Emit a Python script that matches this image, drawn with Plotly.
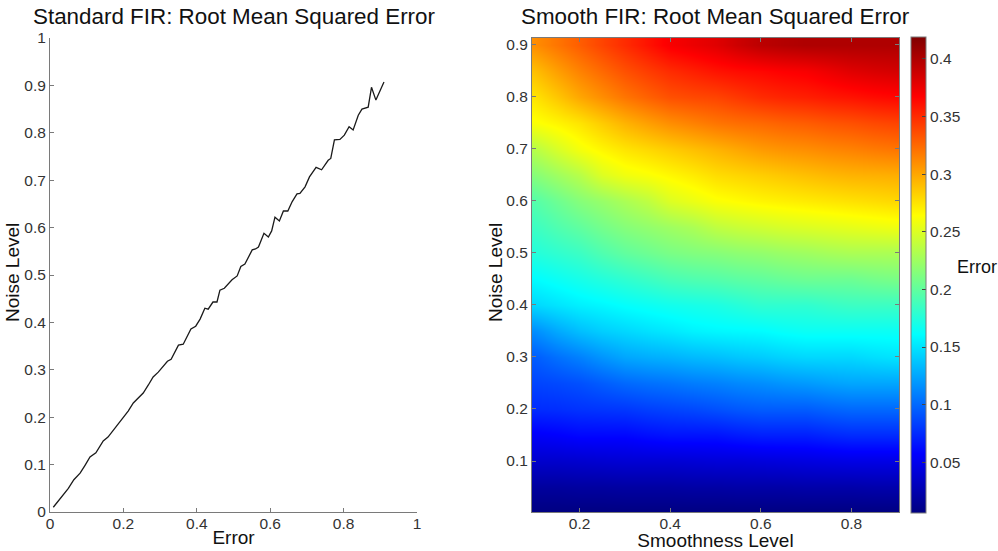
import plotly.graph_objects as go

# Left panel: hand-read curve
error_x = [0.009, 0.03, 0.05, 0.065, 0.082, 0.095, 0.109, 0.125, 0.145, 0.158, 0.177, 0.195, 0.213, 0.227, 0.24, 0.254, 0.268,
           0.281, 0.295, 0.308, 0.32, 0.33, 0.34, 0.35, 0.363, 0.373, 0.384, 0.397, 0.409, 0.422, 0.431, 0.444, 0.455, 0.463,
           0.475, 0.496, 0.51, 0.52, 0.531, 0.551, 0.56, 0.568, 0.583, 0.595, 0.604, 0.613, 0.625, 0.636, 0.648, 0.66, 0.673,
           0.681, 0.695, 0.707, 0.725, 0.74, 0.758, 0.765, 0.775, 0.79, 0.802, 0.815, 0.826, 0.84, 0.85, 0.867, 0.876, 0.888, 0.91]
noise_y = [0.01, 0.03, 0.05, 0.068, 0.082, 0.098, 0.116, 0.125, 0.15, 0.158, 0.177, 0.195, 0.213, 0.23, 0.24, 0.251, 0.268,
           0.285, 0.295, 0.306, 0.318, 0.322, 0.338, 0.352, 0.354, 0.37, 0.386, 0.392, 0.407, 0.43, 0.428, 0.443, 0.443, 0.468,
           0.472, 0.49, 0.498, 0.518, 0.523, 0.553, 0.555, 0.559, 0.588, 0.58, 0.593, 0.622, 0.614, 0.635, 0.635, 0.655, 0.671,
           0.672, 0.686, 0.707, 0.727, 0.722, 0.742, 0.746, 0.785, 0.786, 0.795, 0.813, 0.806, 0.837, 0.85, 0.854, 0.896, 0.869, 0.907]

# Right panel: hand-read grid
smoothness = [0.10, 0.15, 0.20, 0.25, 0.30, 0.35, 0.40, 0.45, 0.50, 0.55, 0.60, 0.65, 0.70, 0.75, 0.80, 0.85, 0.90]
noise_levels = [0.00, 0.05, 0.10, 0.15, 0.20, 0.25, 0.30, 0.35, 0.40, 0.45, 0.50, 0.55, 0.60, 0.65, 0.70, 0.75, 0.80, 0.85, 0.90]
rmse_grid = [
    [.006, .006, .006, .006, .006, .006, .006, .006, .006, .006, .006, .006, .006, .006, .006, .006, .006],
    [.018, .018, .019, .019, .020, .020, .020, .021, .021, .022, .022, .022, .023, .023, .023, .024, .024],
    [.037, .037, .038, .039, .040, .040, .040, .041, .042, .042, .043, .044, .045, .046, .047, .047, .047],
    [.055, .057, .060, .060, .060, .063, .065, .065, .065, .068, .070, .070, .070, .073, .075, .075, .075],
    [.075, .076, .078, .079, .080, .083, .085, .087, .090, .093, .095, .095, .095, .098, .100, .100, .100],
    [.085, .087, .090, .095, .100, .103, .105, .108, .110, .113, .115, .118, .120, .123, .125, .125, .125],
    [.095, .103, .110, .118, .125, .128, .130, .133, .135, .138, .140, .143, .145, .145, .145, .148, .150],
    [.115, .126, .135, .141, .145, .149, .152, .156, .158, .159, .160, .163, .165, .165, .165, .165, .165],
    [.145, .150, .155, .158, .162, .165, .168, .170, .172, .176, .180, .180, .180, .183, .185, .185, .185],
    [.160, .165, .170, .175, .180, .185, .190, .193, .195, .198, .200, .203, .205, .205, .205, .208, .210],
    [.175, .180, .185, .193, .200, .205, .210, .213, .215, .218, .220, .223, .225, .228, .230, .230, .230],
    [.185, .193, .200, .208, .215, .220, .225, .230, .238, .242, .245, .248, .250, .252, .254, .256, .258],
    [.195, .205, .215, .222, .230, .238, .250, .256, .262, .265, .268, .270, .272, .274, .276, .278, .280],
    [.215, .225, .235, .250, .258, .262, .267, .272, .278, .281, .284, .287, .290, .293, .295, .296, .297],
    [.235, .248, .260, .268, .275, .280, .285, .290, .295, .300, .305, .308, .310, .313, .315, .318, .320],
    [.262, .268, .275, .285, .295, .303, .310, .315, .320, .323, .325, .328, .330, .333, .335, .338, .340],
    [.275, .287, .300, .310, .320, .328, .335, .338, .340, .345, .350, .353, .355, .358, .360, .363, .365],
    [.290, .303, .315, .325, .335, .343, .350, .355, .360, .363, .365, .368, .370, .375, .380, .383, .385],
    [.310, .320, .330, .340, .350, .360, .370, .375, .380, .388, .395, .398, .400, .400, .400, .400, .400],
]

left_y_ticks = [0, 0.1, 0.2, 0.3, 0.4, 0.5, 0.6, 0.7, 0.8, 0.9, 1]
left_y_text = ["0", "0.1", "0.2", "0.3", "0.4", "0.5", "0.6", "0.7", "0.8", "0.9", "1"]
left_x_ticks = [0, 0.2, 0.4, 0.6, 0.8, 1]
left_x_text = ["0", "0.2", "0.4", "0.6", "0.8", "1"]
right_x_ticks = [0.2, 0.4, 0.6, 0.8]
right_y_ticks = [0.1, 0.2, 0.3, 0.4, 0.5, 0.6, 0.7, 0.8, 0.9]
cbar_ticks = [0.05, 0.1, 0.15, 0.2, 0.25, 0.3, 0.35, 0.4]
cbar_text = ["0.05", "0.1", "0.15", "0.2", "0.25", "0.3", "0.35", "0.4"]

W, H = 998, 551
FONT = "Liberation Sans"
AX = "#7a7a7a"
TXT = "#333333"


def fx(px):
    return px / W


def fy(py):
    return 1 - py / H


jet = [[0, "rgb(0,0,128)"], [0.125, "rgb(0,0,255)"], [0.375, "rgb(0,255,255)"],
       [0.625, "rgb(255,255,0)"], [0.875, "rgb(255,0,0)"], [1, "rgb(128,0,0)"]]

fig = go.Figure()
fig.add_trace(go.Scatter(x=error_x, y=noise_y, mode="lines", line=dict(color="#1a1a1a", width=1.3),
                         xaxis="x", yaxis="y", showlegend=False))
fig.add_trace(go.Heatmap(x=smoothness, y=noise_levels, z=rmse_grid, xaxis="x2", yaxis="y2",
                         zmin=0.006, zmax=0.419, colorscale=jet, zsmooth="best",
                         colorbar=dict(x=fx(911), xanchor="left", thickness=15, thicknessmode="pixels",
                                       y=fy(275), yanchor="middle", len=476 / H, lenmode="fraction",
                                       xpad=0, ypad=0, tickvals=cbar_ticks, ticktext=cbar_text,
                                       ticks="inside", ticklen=4, tickcolor="#444444", outlinecolor=AX, outlinewidth=1,
                                       tickfont=dict(family=FONT, size=15.5, color=TXT))))


def axis(domain, rng, tickvals, ticktext, anchor, mirror, label_shift, title=None):
    d = dict(domain=domain, range=rng, tickmode="array", tickvals=tickvals, ticktext=ticktext,
             ticks="inside", ticklen=4, tickcolor=AX, showline=True, linecolor=AX, linewidth=1, mirror=mirror,
             showgrid=False, zeroline=False, anchor=anchor, automargin=False, ticklabelstandoff=label_shift,
             tickfont=dict(family=FONT, size=15.5, color=TXT))
    if title:
        d["title"] = dict(text=title, standoff=0, font=dict(family=FONT, size=19, color="#111111"))
    return d


def note(text, px, py, size, angle=0):
    return dict(text=text, x=fx(px), y=fy(py), xref="paper", yref="paper", showarrow=False, textangle=angle,
                xanchor="center", yanchor="middle", font=dict(family=FONT, size=size, color="#111111"))


fig.update_layout(
    width=W, height=H, margin=dict(l=0, r=0, t=0, b=0), paper_bgcolor="white", plot_bgcolor="white",
    showlegend=False,
    xaxis=axis([fx(50), fx(417)], [0, 1], left_x_ticks, left_x_text, "y", False, -3, "Error"),
    yaxis=axis([fy(512), fy(38)], [0, 1], left_y_ticks, left_y_text, "x", False, 0),
    xaxis2=axis([fx(532), fx(899)], [0.095, 0.905], right_x_ticks, [str(v) for v in right_x_ticks],
                "y2", "ticks", -3, "Smoothness Level"),
    yaxis2=axis([fy(512), fy(38)], [0.002, 0.913], right_y_ticks, [str(v) for v in right_y_ticks],
                "x2", "ticks", 0),
    annotations=[
        note("Standard FIR: Root Mean Squared Error", 234, 16, 22.4),
        note("Smooth FIR: Root Mean Squared Error", 715, 16, 22.4),
        note("Noise Level", 12, 273, 19, -90),
        note("Noise Level", 495, 273, 19, -90),
        note("Error", 977, 267, 18),
    ],
)
fig.write_html("out.html", config={"displayModeBar": False},
               post_script="document.body.style.margin='0';document.body.style.overflow='hidden';")
